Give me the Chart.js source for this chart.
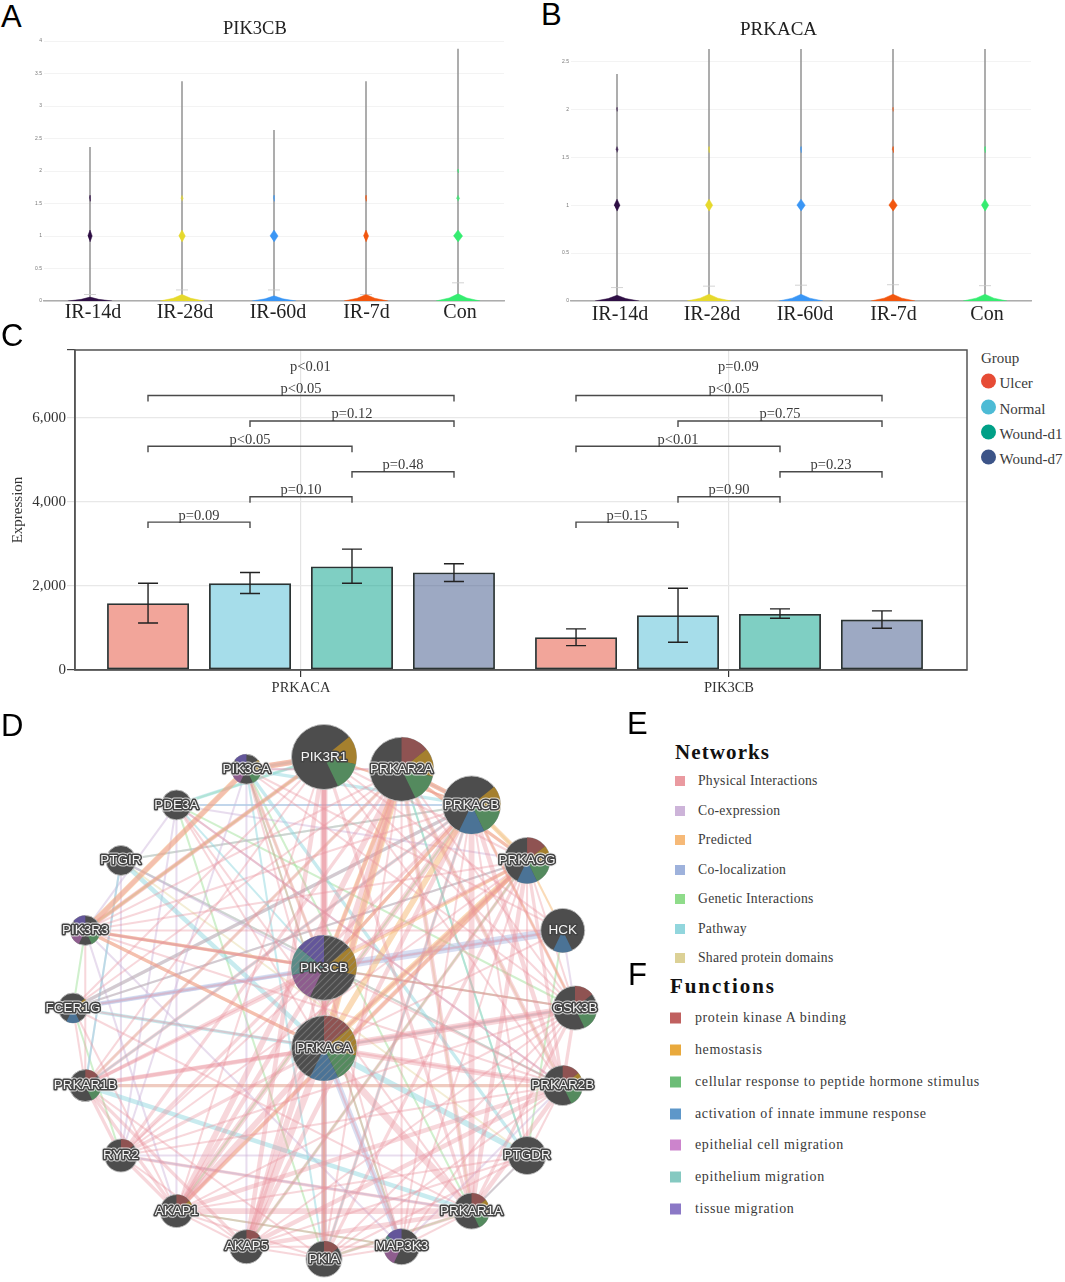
<!DOCTYPE html>
<html>
<head>
<meta charset="utf-8">
<title>PIK3CB PRKACA figure</title>
<script src="https://cdn.jsdelivr.net/npm/chart.js@4"></script>
<style>
    html, body { margin: 0; padding: 0; background: #fff; }
    body { position: relative; width: 1065px; height: 1282px; overflow: hidden; }
    canvas { position: absolute; }
    .txt { position: absolute; white-space: nowrap; transform: translateY(-50%); line-height: 1; }
    .panel { font-family: "Liberation Sans"; font-size: 31px; color: #000; }
    .serif { font-family: "Liberation Serif"; color: #3a3a3a; }
    .swatch { position: absolute; transform: translateY(-50%); }
</style>
</head>
<body>
<canvas id="chartA" style="left:0;top:36px;width:520px;height:295px"></canvas>
<canvas id="chartB" style="left:527px;top:36px;width:520px;height:295px"></canvas>
<canvas id="chartC" style="left:0;top:340px;width:975px;height:360px"></canvas>
<canvas id="chartD" style="left:0;top:700px;width:640px;height:582px"></canvas>
<script>
// panel A and B
const violinGroups = ["IR-14d", "IR-28d", "IR-60d", "IR-7d", "Con"]
const violinColors = ["#2f0f45", "#e6d92c", "#3a96f5", "#f2560e", "#35ec70"]
const pik3cbTops = [2.37, 3.38, 2.63, 3.38, 3.88]
const pik3cbCaps = [0.1, 0.17, 0.17, 0.1, 0.28]
const pik3cbPeaks = [0.06, 0.1, 0.08, 0.1, 0.11]
const pik3cbMain = [0.024, 0.036, 0.044, 0.028, 0.05]
const pik3cbMid = [0.006, 0.012, 0.006, 0.006, 0.016]
const pik3cbHigh = [0, 0, 0, 0, 0.01]
const prkacaTops = [2.37, 2.63, 2.63, 2.63, 2.63]
const prkacaCaps = [0.14, 0.155, 0.165, 0.17, 0.16]
const prkacaPeaks = [0.06, 0.07, 0.07, 0.07, 0.07]
const prkacaMain = [0.032, 0.04, 0.046, 0.046, 0.04]
const prkacaMid = [0.012, 0.005, 0.006, 0.01, 0.006]
const prkacaHigh = [0.004, 0, 0, 0.004, 0]
const violinBase = 0.24
const midLevel = 1.58
const highLevel = 2

// panel C
const barGenes = ["PRKACA", "PIK3CB"]
const barGroups = ["Ulcer", "Normal", "Wound-d1", "Wound-d7"]
const groupColors = ["#E64B35", "#4DBBD5", "#00A087", "#3C5488"]
const barFills = ["rgba(230,75,53,0.5)", "rgba(77,187,213,0.5)", "rgba(0,160,135,0.5)", "rgba(60,84,136,0.5)"]
const ulcerValues = [1590, 779]
const normalValues = [2067, 1304]
const woundD1Values = [2464, 1335]
const woundD7Values = [2320, 1200]
const ulcerLow = [1120, 580]
const normalLow = [1820, 660]
const woundD1Low = [2067, 1232]
const woundD7Low = [2106, 994]
const ulcerHigh = [2067, 978]
const normalHigh = [2320, 1948]
const woundD1High = [2877, 1455]
const woundD7High = [2528, 1407]
const bracketLevels = [3521, 4126, 4722, 5326, 5930, 6534]
const bracketPairs = [[0, 1], [1, 2], [2, 3], [0, 2], [1, 3], [0, 3]]
const prkacaPvalues = ["p=0.09", "p=0.10", "p=0.48", "p<0.05", "p=0.12", "p<0.05"]
const pik3cbPvalues = ["p=0.15", "p=0.90", "p=0.23", "p<0.01", "p=0.75", "p<0.05"]
const topPvalues = ["p<0.01", "p=0.09"]
const topPlevel = 7130
const bracketDrop = 143
const yTicksC = [0, 2000, 4000, 6000]

// panel D, E, F
const ringNodes = ["PIK3R1", "PRKAR2A", "PRKACB", "PRKACG", "HCK", "GSK3B", "PRKAR2B", "PTGDR", "PRKAR1A", "MAP3K3",
    "PKIA", "AKAP5", "AKAP1", "RYR2", "PRKAR1B", "FCER1G", "PIK3R3", "PTGIR", "PDE3A", "PIK3CA"]
const ringSizes = [32.5, 32, 29, 23, 22, 22, 20, 19, 18, 18, 18, 17, 16.5, 16.5, 16, 15, 15, 15, 15, 15]
const centerNodes = ["PIK3CB", "PRKACA"]
const centerLevels = [0.16, -0.16]
const centerSizes = [32.5, 32.5]
const functionNames = ["protein kinase A binding", "hemostasis", "cellular response to peptide hormone stimulus",
    "activation of innate immune response", "epithelial cell migration", "epithelium migration", "tissue migration"]
const functionColors = ["#c0605f", "#e9a93c", "#6cbd77", "#5e97c9", "#cc84cc", "#85c9c1", "#8b78c6"]
const sliceColors = ["#8f5352", "#a5802e", "#548a5e", "#4b7396", "#8e5d8e", "#5a8b87", "#63569a"]
const nodeFunctions = {
    PIK3R1: [1, 2], PRKAR2A: [0, 1, 2], PRKACB: [1, 2, 3], PRKACG: [0, 1, 2, 3], HCK: [3], GSK3B: [0, 2],
    PRKAR2B: [0, 1, 2], PTGDR: [], PRKAR1A: [0, 1, 2], MAP3K3: [4, 5, 6], PKIA: [0], AKAP5: [0], AKAP1: [0, 1],
    RYR2: [0], PRKAR1B: [0, 2], FCER1G: [1, 3], PIK3R3: [2, 4, 6], PTGIR: [], PDE3A: [], PIK3CA: [1, 2, 4, 6],
    PIK3CB: [1, 4, 5, 6], PRKACA: [0, 1, 2, 3]
}
const networkNames = ["Physical Interactions", "Co-expression", "Predicted", "Co-localization", "Genetic Interactions", "Pathway", "Shared protein domains"]
const networkSwatches = ["#ea9aa0", "#cdb4d9", "#f6b977", "#9eb2dc", "#8fdc8a", "#92d6dd", "#dcd196"]

const physicalEdges = [
    ["PRKACA", "PRKAR1A", 5], ["PRKACA", "PRKAR2A", 3], ["PRKACA", "PRKAR2B", 4], ["PRKACA", "GSK3B", 5], ["PRKACA", "AKAP1", 4],
    ["PRKACA", "AKAP5", 5], ["PRKACA", "RYR2", 2], ["PRKACA", "PKIA", 4], ["PRKACA", "PRKAR1B", 3], ["PRKACA", "PRKACG", 2],
    ["PRKACA", "PIK3R1", 3], ["PRKACA", "PIK3CA", 1], ["PRKACA", "PDE3A", 1], ["PRKACA", "MAP3K3", 1],
    ["PRKACB", "PRKAR1A", 4], ["PRKACB", "PRKAR2B", 3], ["PRKACB", "AKAP1", 4], ["PRKACB", "AKAP5", 3], ["PRKACB", "PKIA", 2],
    ["PRKACB", "PRKAR1B", 2], ["PRKACB", "RYR2", 2], ["PRKACB", "GSK3B", 2], ["PRKACB", "PRKAR2A", 3], ["PRKACB", "PIK3CB", 2],
    ["PRKACG", "PRKAR1A", 3], ["PRKACG", "PRKAR2B", 2], ["PRKACG", "AKAP1", 3], ["PRKACG", "AKAP5", 2], ["PRKACG", "PKIA", 2],
    ["PRKACG", "PRKAR1B", 2], ["PRKACG", "PRKAR2A", 2], ["PRKACG", "RYR2", 1], ["PRKACG", "GSK3B", 1],
    ["PRKAR2A", "AKAP1", 4], ["PRKAR2A", "AKAP5", 4], ["PRKAR2A", "PRKAR1A", 3], ["PRKAR2A", "PRKAR2B", 3], ["PRKAR2A", "PRKAR1B", 2],
    ["PRKAR2A", "RYR2", 2], ["PRKAR2A", "PKIA", 1], ["PRKAR2A", "GSK3B", 1], ["PRKAR2A", "PIK3CB", 2],
    ["PRKAR2B", "AKAP1", 3], ["PRKAR2B", "AKAP5", 3], ["PRKAR2B", "PRKAR1A", 3], ["PRKAR2B", "PRKAR1B", 2], ["PRKAR2B", "RYR2", 1],
    ["PRKAR2B", "PKIA", 1], ["PRKAR2B", "GSK3B", 2], ["PRKAR2B", "PDE3A", 1],
    ["PRKAR1A", "AKAP1", 4], ["PRKAR1A", "AKAP5", 3], ["PRKAR1A", "RYR2", 2], ["PRKAR1A", "PKIA", 2],
    ["PRKAR1A", "GSK3B", 2], ["PRKAR1A", "PTGDR", 1], ["PRKAR1A", "MAP3K3", 1], ["PRKAR1A", "PDE3A", 1],
    ["PRKAR1B", "AKAP1", 2], ["PRKAR1B", "AKAP5", 2], ["PRKAR1B", "RYR2", 2], ["PRKAR1B", "FCER1G", 1], ["PRKAR1B", "PKIA", 1],
    ["AKAP1", "RYR2", 2], ["AKAP1", "AKAP5", 1], ["AKAP1", "PKIA", 1], ["AKAP5", "PKIA", 1], ["AKAP5", "RYR2", 1],
    ["PIK3CB", "PIK3R1", 5], ["PIK3CB", "PIK3CA", 2], ["PIK3CB", "PIK3R3", 2], ["PIK3CB", "GSK3B", 1],
    ["PIK3CA", "PIK3R1", 4], ["PIK3R3", "PIK3CA", 3], ["PIK3R3", "PIK3R1", 3], ["PIK3R3", "PRKACA", 2], ["PIK3R1", "PRKACB", 1],
    ["PIK3R1", "AKAP1", 1], ["PIK3R1", "PRKAR1A", 2], ["PIK3R1", "PRKAR1B", 1], ["PIK3R1", "HCK", 1], ["PIK3R1", "FCER1G", 1],
    ["GSK3B", "AKAP1", 1], ["GSK3B", "PIK3CA", 1], ["GSK3B", "PIK3R3", 1], ["HCK", "PIK3CA", 1], ["HCK", "PIK3R3", 1],
    ["HCK", "PRKACA", 1], ["HCK", "FCER1G", 1], ["MAP3K3", "PIK3CA", 1], ["MAP3K3", "AKAP1", 1], ["PTGDR", "AKAP5", 1],
    ["PIK3R1", "AKAP5", 3], ["PIK3R1", "PKIA", 3], ["PIK3R1", "PRKACG", 1], ["PIK3R1", "PRKAR2B", 1], ["PIK3R1", "GSK3B", 1],
    ["PRKAR2A", "PIK3R3", 1], ["PRKAR2A", "FCER1G", 1], ["PRKAR2A", "PIK3CA", 1], ["PRKAR2A", "MAP3K3", 1],
    ["PRKACB", "FCER1G", 2], ["PRKACB", "PIK3R3", 1], ["PRKACB", "MAP3K3", 1], ["PRKACB", "PTGDR", 1], ["PRKACG", "FCER1G", 1],
    ["PRKACG", "PIK3R3", 1], ["PRKACG", "PTGDR", 1], ["PRKACG", "MAP3K3", 1], ["PRKAR1B", "GSK3B", 2], ["PRKAR1B", "PIK3CB", 2],
    ["AKAP1", "PIK3CB", 3], ["AKAP5", "PIK3CB", 2], ["RYR2", "GSK3B", 1], ["RYR2", "PIK3CB", 1],
    ["FCER1G", "PRKAR2B", 1], ["FCER1G", "PRKAR1A", 1], ["FCER1G", "AKAP1", 1], ["PIK3R3", "PRKAR1B", 1], ["PIK3R3", "PRKAR2B", 1],
    ["PKIA", "GSK3B", 1], ["PKIA", "PTGDR", 1], ["PKIA", "MAP3K3", 1], ["AKAP5", "GSK3B", 1], ["AKAP5", "MAP3K3", 1],
    ["AKAP1", "PTGDR", 1], ["MAP3K3", "GSK3B", 1], ["MAP3K3", "PIK3CB", 1], ["PRKAR2B", "PIK3CB", 1], ["PTGDR", "PRKAR2B", 1]
]
const coexpressionEdges = [
    ["PDE3A", "RYR2", 1], ["PTGIR", "RYR2", 1], ["PIK3R3", "MAP3K3", 1], ["PTGIR", "PIK3CB", 1], ["PDE3A", "PRKAR2B", 1],
    ["HCK", "GSK3B", 1], ["PIK3CA", "PRKAR2A", 1], ["PIK3R3", "AKAP1", 1], ["PIK3CA", "AKAP5", 1], ["PRKACB", "PTGIR", 1],
    ["PDE3A", "AKAP1", 1], ["MAP3K3", "PRKAR2B", 1], ["RYR2", "PTGDR", 1], ["PIK3CA", "PIK3R1", 2], ["PRKAR1B", "PTGIR", 1],
    ["PIK3CA", "RYR2", 1], ["PDE3A", "PIK3R3", 1], ["PTGIR", "PRKAR2B", 1], ["PDE3A", "PRKACG", 1]
]
const predictedEdges = [
    ["PIK3R3", "PIK3CA", 4], ["PIK3R1", "PIK3CA", 4], ["PRKAR2A", "PRKACB", 3], ["PRKACB", "PRKACG", 3], ["PRKACA", "PRKAR2A", 5],
    ["PRKACA", "PRKACB", 4], ["PRKACA", "PRKACG", 4], ["PIK3CB", "PRKACG", 2], ["PIK3CB", "PRKACB", 2], ["PIK3R3", "PIK3CB", 2],
    ["PIK3R3", "PRKACA", 2], ["PRKACG", "PRKAR2A", 2], ["PRKACG", "HCK", 1], ["PRKACB", "GSK3B", 1], ["PRKACG", "AKAP1", 2],
    ["PRKAR2A", "PIK3CB", 3], ["PRKACA", "PKIA", 1], ["PIK3R1", "PIK3R3", 2], ["PRKACB", "PIK3R1", 1]
]
const colocalizationEdges = [
    ["PIK3CB", "HCK", 6], ["PRKACA", "MAP3K3", 4], ["PIK3CB", "FCER1G", 3], ["HCK", "FCER1G", 2], ["PIK3CB", "PIK3R3", 1],
    ["RYR2", "PRKAR1A", 1], ["PRKACB", "PRKAR2A", 1], ["PDE3A", "PRKACB", 1]
]
const geneticEdges = [
    ["PIK3R3", "FCER1G", 1], ["PIK3CA", "MAP3K3", 1], ["PIK3R1", "PIK3R3", 1], ["AKAP1", "PRKACB", 1], ["AKAP5", "PRKACG", 1],
    ["MAP3K3", "AKAP1", 1], ["PDE3A", "PKIA", 1], ["PIK3CA", "PRKAR1A", 1], ["FCER1G", "RYR2", 1], ["PRKAR2A", "PTGDR", 1],
    ["PIK3R1", "PDE3A", 1], ["GSK3B", "PDE3A", 1], ["PTGIR", "PRKACB", 1], ["HCK", "PTGDR", 1], ["PKIA", "PRKAR1A", 1],
    ["PIK3CB", "GSK3B", 1], ["PRKAR2B", "PTGIR", 1]
]
const pathwayEdges = [
    ["PRKACA", "PTGDR", 4], ["PTGIR", "PRKACA", 3], ["FCER1G", "PRKACB", 2], ["PRKAR1B", "PRKAR1A", 3], ["PRKACA", "PKIA", 3],
    ["PRKACB", "PKIA", 1], ["PDE3A", "PIK3R1", 2], ["PDE3A", "PRKACB", 1], ["PIK3CA", "PRKACB", 2], ["PIK3CA", "PTGDR", 2],
    ["PIK3CA", "PKIA", 1], ["PRKACG", "FCER1G", 1], ["FCER1G", "PRKACA", 2], ["PRKAR1B", "PTGIR", 1], ["PRKAR2A", "PTGDR", 1],
    ["GSK3B", "PRKACA", 1], ["PRKACB", "PRKAR1B", 1], ["PRKAR1A", "PTGDR", 1], ["PDE3A", "PIK3CB", 1], ["PIK3CA", "PIK3R1", 1]
]
const sharedDomainEdges = [
    ["PRKAR1B", "PRKAR2B", 2], ["PRKAR1A", "PRKAR2A", 1], ["PRKAR2A", "PRKAR2B", 1], ["PIK3CA", "PIK3CB", 1],
    ["PRKACB", "PRKACG", 1], ["PRKACA", "PRKACG", 1], ["PTGIR", "PTGDR", 1], ["PRKAR1B", "PRKAR2A", 1]
]
// physical first so it ends up painted over the paler types
const edgeSets = [
    { edges: physicalEdges, color: "rgba(234,145,155,0.36)" },
    { edges: predictedEdges, color: "rgba(246,190,125,0.55)" },
    { edges: colocalizationEdges, color: "rgba(190,200,232,0.6)" },
    { edges: pathwayEdges, color: "rgba(146,216,224,0.5)" },
    { edges: coexpressionEdges, color: "rgba(205,180,218,0.45)" },
    { edges: geneticEdges, color: "rgba(150,222,145,0.45)" },
    { edges: sharedDomainEdges, color: "rgba(225,210,150,0.4)" }
]

Chart.defaults.animation = false
Chart.defaults.plugins.legend.display = false
Chart.defaults.plugins.tooltip.enabled = false
Chart.defaults.responsive = false

function sizeCanvas(id) {
    const c = document.getElementById(id)
    c.width = parseInt(c.style.width)
    c.height = parseInt(c.style.height)
    return c
}

function diamond(i, level, w, h, color) {
    return {
        data: [{ x: i - w, y: level }, { x: i, y: level + h }, { x: i + w, y: level }, { x: i, y: level - h }],
        showLine: true, fill: "shape", backgroundColor: color, borderColor: color, borderWidth: 0.5, pointRadius: 0, tension: 0
    }
}

function violinDatasets(tops, caps, peaks, main, mid, high, dy) {
    const sets = []
    violinGroups.forEach((g, i) => {
        const col = violinColors[i]
        sets.push(diamond(i, 1, main[i], dy * 6, col))
        if (mid[i] > 0) sets.push(diamond(i, midLevel, mid[i], dy * 3, col + "bb"))
        if (high[i] > 0) sets.push(diamond(i, highLevel, high[i], dy * 2, col + "88"))
        sets.push({
            data: [
                { x: i - violinBase, y: 0 },
                { x: i - violinBase * 0.4, y: peaks[i] * 0.42 },
                { x: i, y: peaks[i] },
                { x: i + violinBase * 0.4, y: peaks[i] * 0.42 },
                { x: i + violinBase, y: 0 }
            ],
            showLine: true, fill: "shape", backgroundColor: col, borderColor: col, borderWidth: 0.5, pointRadius: 0, tension: 0
        })
        sets.push({
            data: [{ x: i, y: caps[i] }], showLine: false, pointStyle: "line", pointRadius: 6, pointBorderWidth: 0.8, pointBorderColor: "#c8c8c8"
        })
        sets.push({
            data: [{ x: i, y: 0 }, { x: i, y: tops[i] }], showLine: true, borderColor: "#999", borderWidth: 1.6, pointRadius: 0
        })
    })
    return sets
}

const labelNudge = [3, 3, 4, 0.5, 2]

function makeViolin(id, sets, yMax, topPad, labelDrop) {
    new Chart(sizeCanvas(id), {
        type: "scatter",
        data: { datasets: sets },
        plugins: [{
            id: "groupLabels",
            afterDraw(chart) {
                const ctx = chart.ctx
                ctx.save()
                ctx.font = "20px 'Liberation Serif'"
                ctx.fillStyle = "#222"
                ctx.textAlign = "center"
                ctx.textBaseline = "middle"
                violinGroups.forEach((g, i) => {
                    ctx.fillText(g, chart.scales.x.getPixelForValue(i) + labelNudge[i], chart.chartArea.bottom + labelDrop)
                })
                ctx.restore()
            }
        }],
        options: {
            layout: { autoPadding: false, padding: { top: topPad, right: 16, left: 0, bottom: 0 } },
            scales: {
                x: {
                    type: "linear", min: -0.5, max: 4.5,
                    afterFit(s) { s.height = 30 },
                    grid: { display: false, drawTicks: false },
                    border: { color: "#adadad", width: 1.5 },
                    ticks: { display: false }
                },
                y: {
                    min: 0, max: yMax,
                    afterFit(s) { s.width = 44 },
                    grid: { color: "#f0f0f0", lineWidth: 0.8, drawTicks: false },
                    border: { display: false },
                    ticks: {
                        stepSize: 0.5, includeBounds: false, padding: 2, color: "#777", font: { family: "Liberation Sans", size: 5 },
                        callback: v => String(v)
                    }
                }
            }
        }
    })
}

makeViolin("chartA", violinDatasets(pik3cbTops, pik3cbCaps, pik3cbPeaks, pik3cbMain, pik3cbMid, pik3cbHigh, 1 / 65), 4, 5, 12)
makeViolin("chartB", violinDatasets(prkacaTops, prkacaCaps, prkacaPeaks, prkacaMain, prkacaMid, prkacaHigh, 1 / 95.8), 2.63, 13, 14)

// chart C
const barSeries = [ulcerValues, normalValues, woundD1Values, woundD7Values]
const lowSeries = [ulcerLow, normalLow, woundD1Low, woundD7Low]
const highSeries = [ulcerHigh, normalHigh, woundD1High, woundD7High]
const barStep = 102 / 428

const barSets = barGroups.map((g, i) => ({
    type: "bar",
    label: g,
    data: barGenes.map((name, j) => ({ x: j, y: barSeries[i][j] })),
    backgroundColor: barFills[i],
    borderColor: "#2a3333",
    borderWidth: 1.8,
    borderSkipped: false,
    barPercentage: 0.804,
    categoryPercentage: 0.953
}))

const bracketSets = []
barGenes.forEach((name, j) => {
    bracketPairs.forEach((pair, k) => {
        const x1 = j + (pair[0] - 1.5) * barStep
        const x2 = j + (pair[1] - 1.5) * barStep
        const lvl = bracketLevels[k]
        bracketSets.push({
            type: "scatter",
            data: [{ x: x1, y: lvl - bracketDrop }, { x: x1, y: lvl }, { x: x2, y: lvl }, { x: x2, y: lvl - bracketDrop }],
            showLine: true, borderColor: "#4a4a4a", borderWidth: 1.4, pointRadius: 0, tension: 0
        })
    })
})

const barExtras = {
    id: "barExtras",
    afterDatasetsDraw(chart) {
        const ctx = chart.ctx
        const y = chart.scales.y
        const x = chart.scales.x
        ctx.save()
        ctx.strokeStyle = "#222"
        ctx.lineWidth = 1.4
        barGroups.forEach((g, i) => {
            chart.getDatasetMeta(i).data.forEach((bar, j) => {
                const lo = y.getPixelForValue(lowSeries[i][j])
                const hi = y.getPixelForValue(highSeries[i][j])
                ctx.beginPath()
                ctx.moveTo(bar.x, lo)
                ctx.lineTo(bar.x, hi)
                ctx.moveTo(bar.x - 10, lo)
                ctx.lineTo(bar.x + 10, lo)
                ctx.moveTo(bar.x - 10, hi)
                ctx.lineTo(bar.x + 10, hi)
                ctx.stroke()
            })
        })
        ctx.font = "14.5px 'Liberation Serif'"
        ctx.fillStyle = "#3a3a3a"
        ctx.textAlign = "center"
        ctx.textBaseline = "alphabetic"
        barGenes.forEach((name, j) => {
            const labels = j == 0 ? prkacaPvalues : pik3cbPvalues
            bracketPairs.forEach((pair, k) => {
                const mid = j + (pair[0] + pair[1] - 3) / 2 * barStep
                ctx.fillText(labels[k], x.getPixelForValue(mid), y.getPixelForValue(bracketLevels[k]) - 2.5)
            })
            ctx.fillText(topPvalues[j], x.getPixelForValue(j + 0.022), y.getPixelForValue(topPlevel))
        })
        const a = chart.chartArea
        ctx.strokeStyle = "#555"
        ctx.lineWidth = 1.5
        ctx.strokeRect(a.left, a.top, a.right - a.left, a.bottom - a.top)
        ctx.restore()
    }
}

new Chart(sizeCanvas("chartC"), {
    type: "bar",
    data: { datasets: barSets.concat(bracketSets) },
    plugins: [barExtras],
    options: {
        layout: { autoPadding: false, padding: { top: 10, right: 8, left: 0, bottom: 0 } },
        scales: {
            x: {
                type: "linear", offset: false, min: -226 / 428, max: 666 / 428,
                afterFit(s) { s.height = 30 },
                grid: { offset: false, color: "#e4e4e4", tickColor: "#333", tickLength: 7, lineWidth: 1.2 },
                border: { color: "#555", width: 1.5 },
                ticks: {
                    stepSize: 1, includeBounds: false, maxRotation: 0, padding: 2,
                    color: "#333", font: { family: "Liberation Serif", size: 14.5 },
                    callback: v => barGenes[v]
                }
            },
            y: {
                min: 0, max: 320 / 0.042,
                afterFit(s) { s.width = 75 },
                afterBuildTicks(s) { s.ticks = yTicksC.map(v => ({ value: v })).concat([{ value: s.max }]) },
                grid: {
                    color: "#e8e8e8", lineWidth: 1.2, tickLength: 8,
                    tickColor: c => (c.tick.value == 0 || c.tick.value > 7000) ? "#444" : "#e0e0e0"
                },
                border: { color: "#555", width: 1.5 },
                title: { display: true, text: "Expression", color: "#333", padding: { top: 9, bottom: 0 }, font: { family: "Liberation Serif", size: 15 } },
                ticks: {
                    padding: 1, color: "#333", font: { family: "Liberation Serif", size: 15 },
                    callback: v => v > 7000 ? "" : v.toLocaleString("en-US")
                }
            }
        }
    }
})

// chart D: ring layout, nodes sit on the unit circle every 18 degrees
function nodePos(name) {
    const k = ringNodes.indexOf(name)
    if (k >= 0) {
        const t = k * Math.PI / 10
        return { x: Math.sin(t), y: Math.cos(t) }
    }
    return { x: 0, y: centerLevels[centerNodes.indexOf(name)] }
}

const allNodes = ringNodes.concat(centerNodes)
const allSizes = ringSizes.concat(centerSizes)
const edgeDatasets = []
edgeSets.forEach(set => {
    set.edges.forEach(e => {
        edgeDatasets.push({
            type: "scatter",
            data: [nodePos(e[0]), nodePos(e[1])],
            showLine: true, borderColor: set.color, borderWidth: e[2] * 1.25 + 0.8, pointRadius: 0, order: 5
        })
    })
})

const nodeSet = {
    type: "bubble",
    data: allNodes.map((n, i) => ({ x: nodePos(n).x, y: nodePos(n).y, r: allSizes[i] })),
    backgroundColor: "#4d4d4d",
    borderColor: "rgba(190,190,190,0.9)",
    borderWidth: 1,
    order: 1
}

function hatchPattern(ctx) {
    const p = document.createElement("canvas")
    p.width = 7
    p.height = 7
    const g = p.getContext("2d")
    g.strokeStyle = "rgba(150,150,150,0.5)"
    g.lineWidth = 1.2
    g.beginPath()
    g.moveTo(-1, 8)
    g.lineTo(8, -1)
    g.moveTo(-1, 1)
    g.lineTo(1, -1)
    g.moveTo(6, 8)
    g.lineTo(8, 6)
    g.stroke()
    return ctx.createPattern(p, "repeat")
}

const nodeExtras = {
    id: "nodeExtras",
    afterDatasetsDraw(chart) {
        const ctx = chart.ctx
        const sx = chart.scales.x
        const sy = chart.scales.y
        const wedge = Math.PI * 2 / functionNames.length
        ctx.save()
        allNodes.forEach((name, i) => {
            const p = nodePos(name)
            const px = sx.getPixelForValue(p.x)
            const py = sy.getPixelForValue(p.y)
            const r = allSizes[i]
            nodeFunctions[name].forEach(f => {
                ctx.beginPath()
                ctx.moveTo(px, py)
                ctx.arc(px, py, r, -Math.PI / 2 + f * wedge, -Math.PI / 2 + (f + 1) * wedge)
                ctx.closePath()
                ctx.fillStyle = sliceColors[f]
                ctx.fill()
            })
            if (centerNodes.includes(name)) {
                ctx.beginPath()
                ctx.arc(px, py, r, 0, Math.PI * 2)
                ctx.fillStyle = hatchPattern(ctx)
                ctx.fill()
            }
        })
        ctx.font = "13.5px 'Liberation Sans'"
        ctx.textAlign = "center"
        ctx.textBaseline = "middle"
        ctx.lineJoin = "round"
        allNodes.forEach((name, i) => {
            const p = nodePos(name)
            const px = sx.getPixelForValue(p.x)
            const py = sy.getPixelForValue(p.y)
            if (ctx.measureText(name).width > allSizes[i] * 1.6) {
                ctx.strokeStyle = "rgba(235,235,235,0.8)"
                ctx.lineWidth = 5
                ctx.strokeText(name, px, py)
            }
            ctx.strokeStyle = "#444"
            ctx.lineWidth = 3
            ctx.strokeText(name, px, py)
            ctx.fillStyle = "#f4f4f4"
            ctx.fillText(name, px, py)
        })
        ctx.restore()
    }
}

new Chart(sizeCanvas("chartD"), {
    type: "scatter",
    data: { datasets: [nodeSet].concat(edgeDatasets) },
    plugins: [nodeExtras],
    options: {
        clip: false,
        layout: { autoPadding: false, padding: 0 },
        scales: {
            x: { type: "linear", display: false, min: -324 / 251, max: 316 / 251 },
            y: { type: "linear", display: false, min: -274 / 251, max: 308 / 251 }
        }
    }
})

// text that sits outside the canvases
function addText(text, x, y, cls, css) {
    const d = document.createElement("div")
    d.className = "txt " + cls
    d.textContent = text
    d.style.left = x + "px"
    d.style.top = y + "px"
    if (css) d.style.cssText += css
    document.body.appendChild(d)
    return d
}

function addSwatch(x, y, w, color, round) {
    const d = document.createElement("div")
    d.className = "swatch"
    d.style.cssText = `left:${x}px;top:${y}px;width:${w}px;height:${w}px;background:${color};` + (round ? "border-radius:50%;" : "")
    document.body.appendChild(d)
}

addText("A", 1, 16, "panel")
addText("B", 541, 14, "panel")
addText("C", 1, 335, "panel")
addText("D", 1, 725, "panel")
addText("E", 627, 723, "panel")
addText("F", 628, 974, "panel")

addText("PIK3CB", 223, 28, "serif", "font-size:18.5px;color:#222;")
addText("PRKACA", 740, 28, "serif", "font-size:19px;color:#222;")

addText("Group", 981, 358, "serif", "font-size:15px;")
const groupY = [381, 407, 432, 457]
barGroups.forEach((g, i) => {
    addSwatch(980.5, groupY[i], 15, groupColors[i], true)
    addText(g, 999.5, groupY[i] + 2, "serif", "font-size:15px;")
})

addText("Networks", 675, 752, "serif", "font-size:21px;font-weight:bold;color:#111;letter-spacing:1.1px;")
networkNames.forEach((n, i) => {
    const y = 781 + i * 29.5
    addSwatch(675, y, 10, networkSwatches[i])
    addText(n, 698, y, "serif", "font-size:13.7px;letter-spacing:0.25px;")
})

addText("Functions", 670, 986, "serif", "font-size:21px;font-weight:bold;color:#111;letter-spacing:1.9px;")
functionNames.forEach((n, i) => {
    const y = 1018 + i * 31.85
    addSwatch(669.5, y, 11, functionColors[i])
    addText(n, 695, y, "serif", "font-size:14px;letter-spacing:0.6px;")
})
</script>
</body>
</html>
